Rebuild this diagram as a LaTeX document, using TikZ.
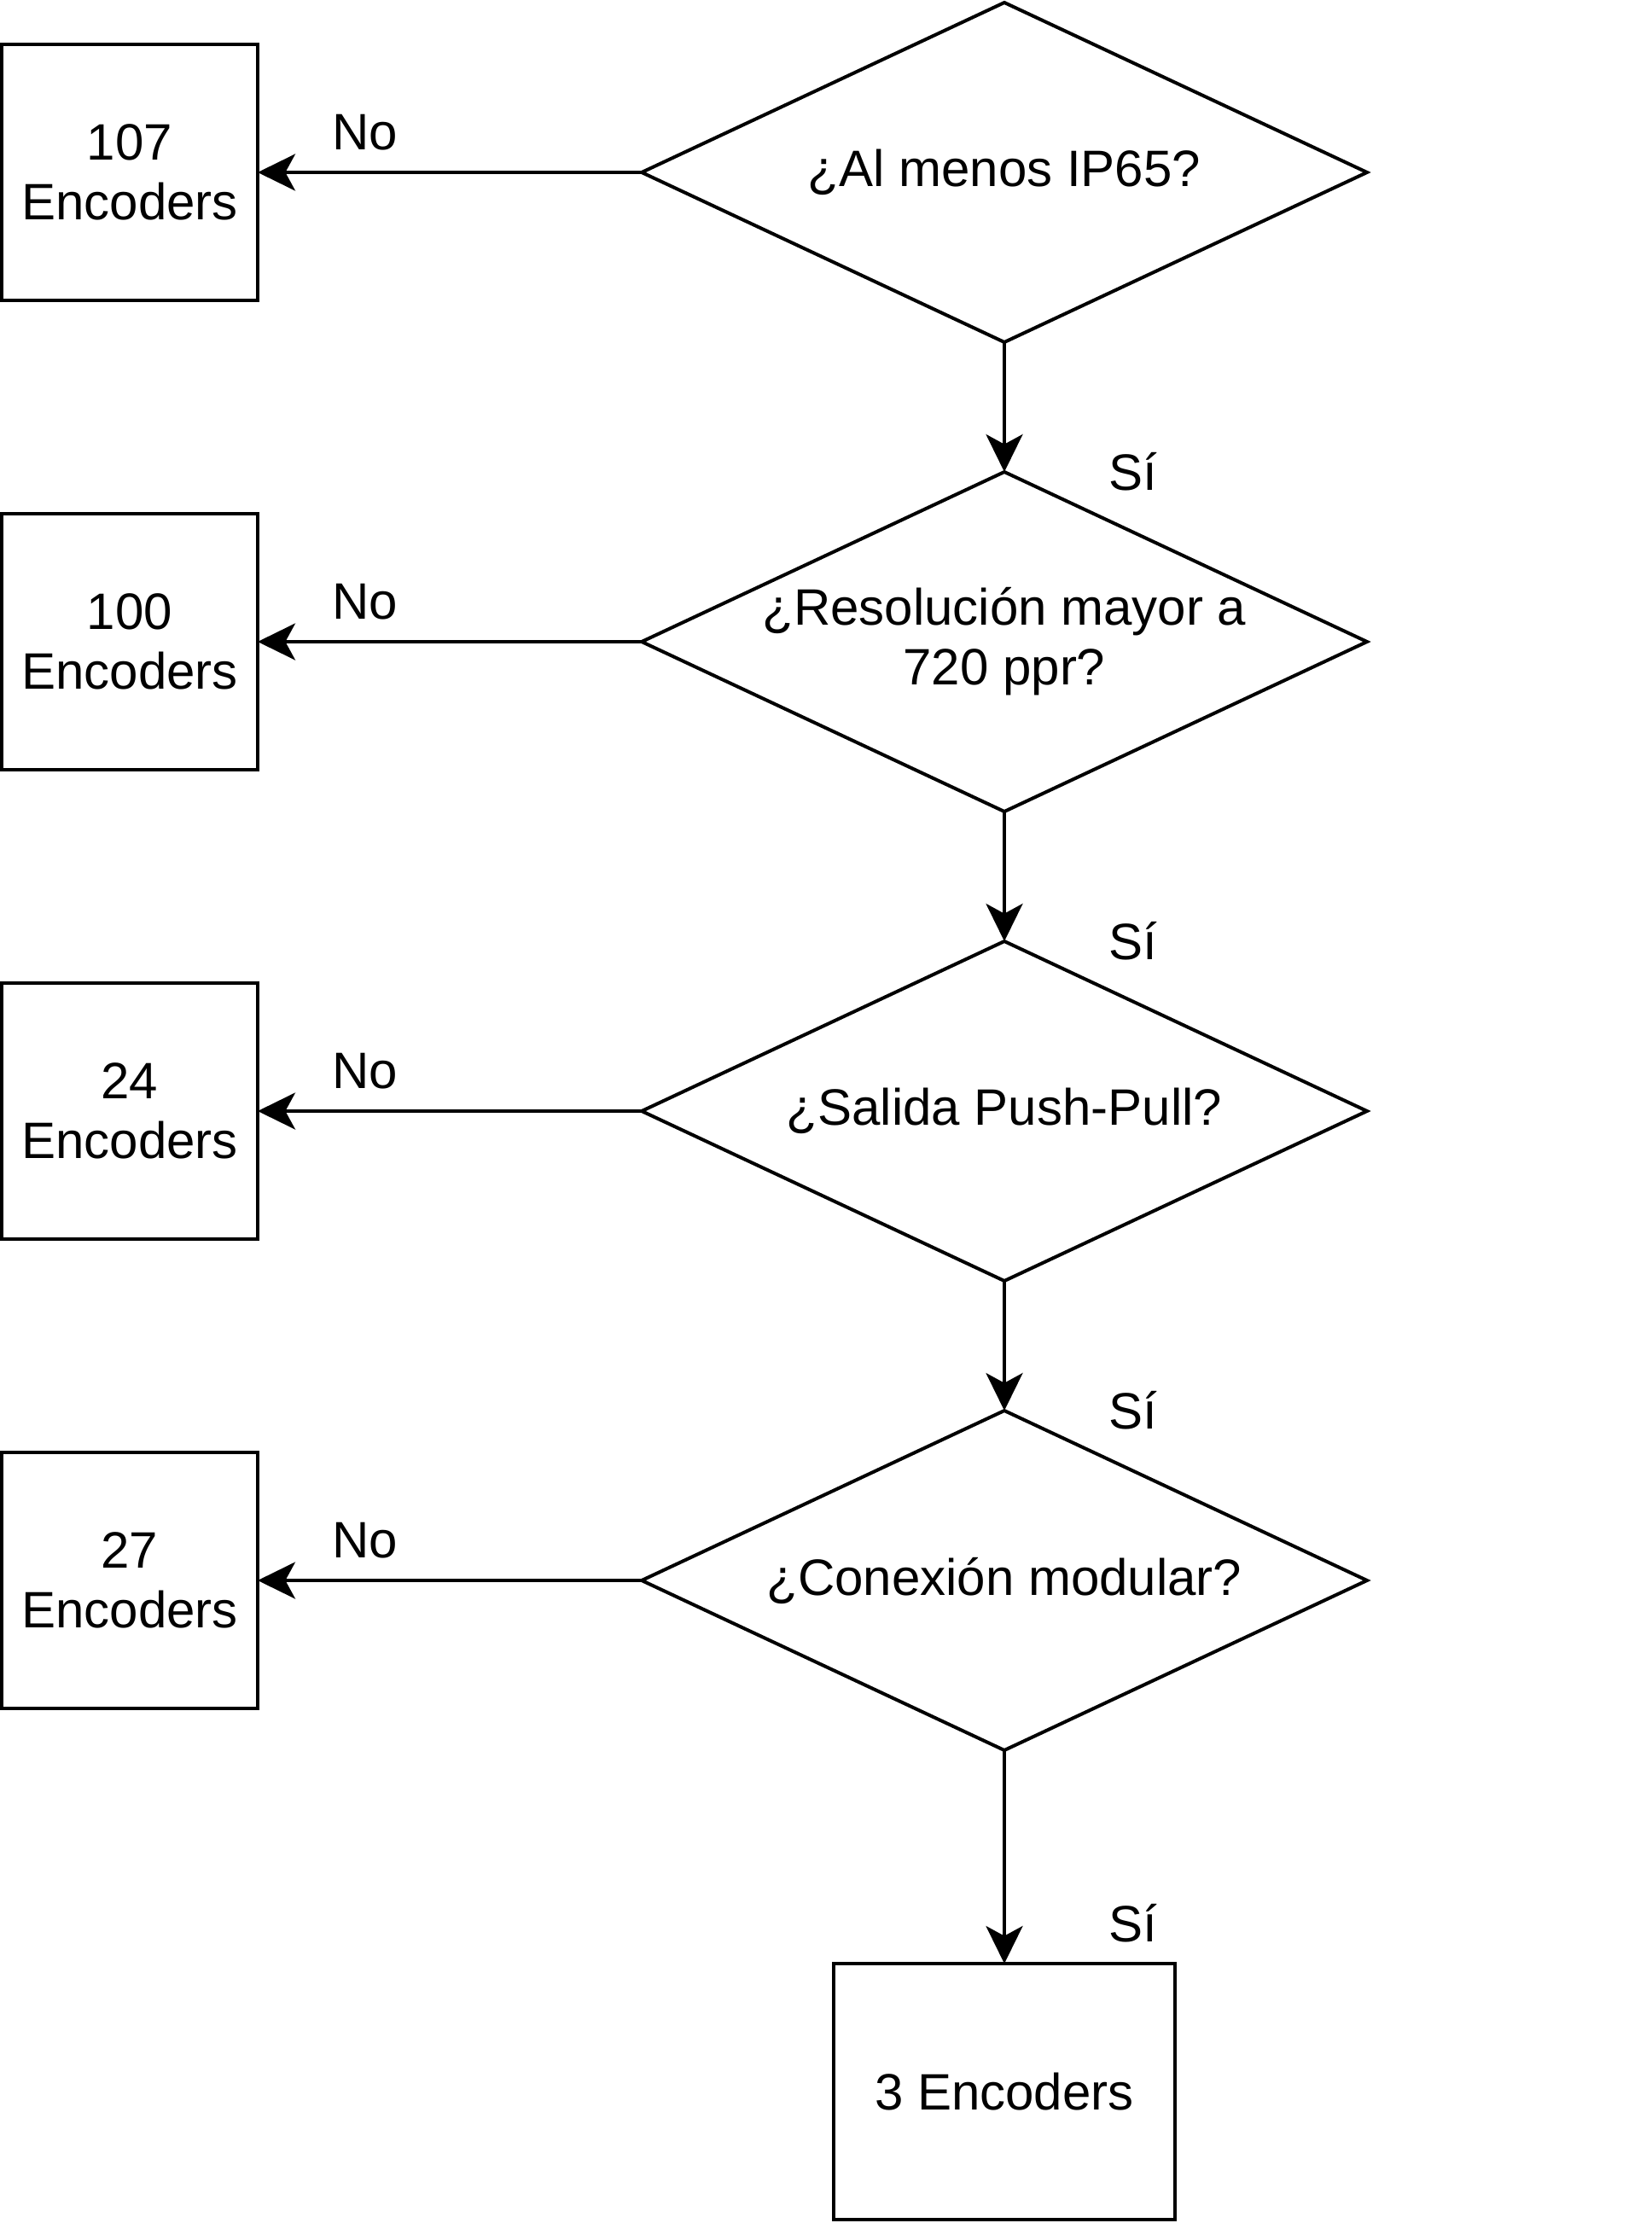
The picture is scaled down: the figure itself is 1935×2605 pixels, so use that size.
\documentclass[tikz,border=0pt]{standalone}
\usepackage{fontspec}
\setmainfont{Liberation Sans}
\usetikzlibrary{shapes.geometric,arrows.meta}
\begin{document}
\begin{tikzpicture}[x=0.5pt,y=-0.5pt,
  every node/.style={font=\fontsize{30pt}{35pt}\selectfont},
  decision/.style={diamond, draw, line width=2pt, inner sep=0pt, outer sep=0pt,
    aspect=2.14, minimum width=425pt, minimum height=199pt, align=center},
  result/.style={rectangle, draw, line width=2pt, inner sep=0pt, outer sep=0pt,
    minimum width=150pt, minimum height=150pt, align=center},
  flow/.style={-{Stealth[length=22pt,width=21.5pt,inset=5.8pt]}, line width=2pt},
  lbl/.style={inner sep=0pt}
]
\useasboundingbox (0,0) rectangle (1935,2605);

% decisions
\node[decision] (d1) at (1177,202) {¿Al menos IP65?};
\node[decision] (d2) at (1177,752) {¿Resolución mayor a\\720 ppr?};
\node[decision] (d3) at (1177,1302) {¿Salida Push-Pull?};
\node[decision] (d4) at (1177,1852) {¿Conexión modular?};

% results
\node[result] (r1) at (152,202) {107\\Encoders};
\node[result] (r2) at (152,752) {100\\Encoders};
\node[result] (r3) at (152,1302) {24\\Encoders};
\node[result] (r4) at (152,1852) {27\\Encoders};
\node[result, minimum width=200pt] (r5) at (1177,2451) {3 Encoders};

% connectors
\draw[flow] (d1.west) -- (r1.east);
\draw[flow] (d2.west) -- (r2.east);
\draw[flow] (d3.west) -- (r3.east);
\draw[flow] (d4.west) -- (r4.east);
\draw[flow] (d1.south) -- (d2.north);
\draw[flow] (d2.south) -- (d3.north);
\draw[flow] (d3.south) -- (d4.north);
\draw[flow] (d4.south) -- (r5.north);

% labels
\node[lbl] (no1) at (428,155) {No};
\node[lbl] (no2) at (428,705) {No};
\node[lbl] (no3) at (428,1255) {No};
\node[lbl] (no4) at (428,1805) {No};
\node[lbl] (si1) at (1328,553) {Sí};
\node[lbl] (si2) at (1328,1103) {Sí};
\node[lbl] (si3) at (1328,1653) {Sí};
\node[lbl] (si4) at (1328,2254) {Sí};
\end{tikzpicture}
\end{document}
